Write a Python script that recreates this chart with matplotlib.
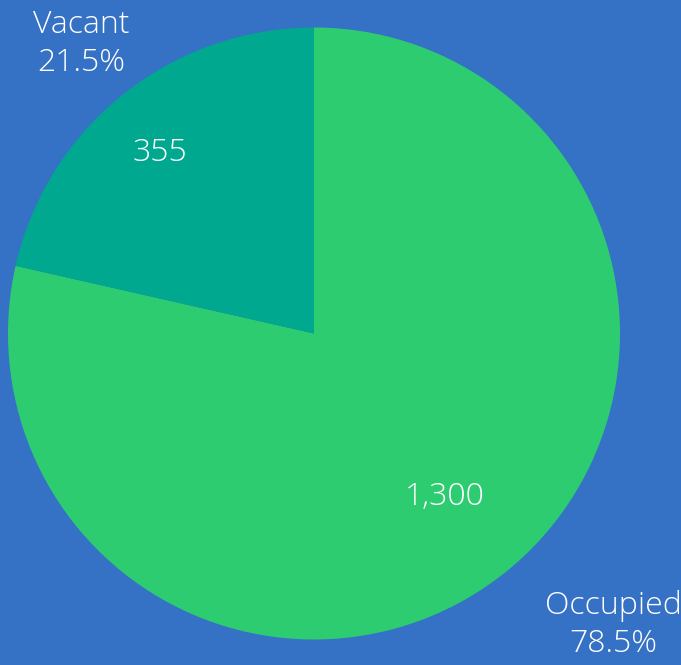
import numpy as np
import matplotlib.pyplot as plt

# Data
labels = ['Occupied', 'Vacant']
values = [1300, 355]
colors = ['#2ecc71', '#00a88f']
bg = '#3571c5'

plt.rcParams['font.family'] = ['Open Sans', 'DejaVu Sans']

fig = plt.figure(figsize=(6.81, 6.65), dpi=100, facecolor=bg)
ax = fig.add_axes([0, 0, 1, 1])
ax.set_facecolor(bg)

cx, cy, r = 314, 331.5, 306
wedges, _ = ax.pie(values, colors=colors, startangle=90, counterclock=False,
                   center=(cx, cy), radius=r, frame=True,
                   wedgeprops=dict(linewidth=0))
ax.set_xlim(0, 681)
ax.set_ylim(0, 665)
ax.set_aspect('equal')
ax.axis('off')

total = sum(values)
# (distance as fraction of radius, angle offset from wedge middle in degrees)
inner_pos = [(0.685, 0.0), (0.776, 2.0)]
outer_pos = [(1.365, -44.3), (1.215, 128.8)]
for i, w in enumerate(wedges):
    dist, off = inner_pos[i]
    mid = np.deg2rad((w.theta1 + w.theta2) / 2 + off)
    ax.text(cx + dist * r * np.cos(mid), cy + dist * r * np.sin(mid),
            f'{values[i]:,}', ha='center', va='center', color='white',
            fontsize=23, fontweight='light')
    dist, ang = outer_pos[i]
    a = np.deg2rad(ang)
    ax.text(cx + dist * r * np.cos(a), cy + dist * r * np.sin(a),
            f'{labels[i]}\n{values[i] / total * 100:.1f}%',
            ha='center', va='center', color='white', fontsize=23,
            fontweight='light', linespacing=1.25)

fig.savefig('out.png', dpi=100, facecolor=bg)
